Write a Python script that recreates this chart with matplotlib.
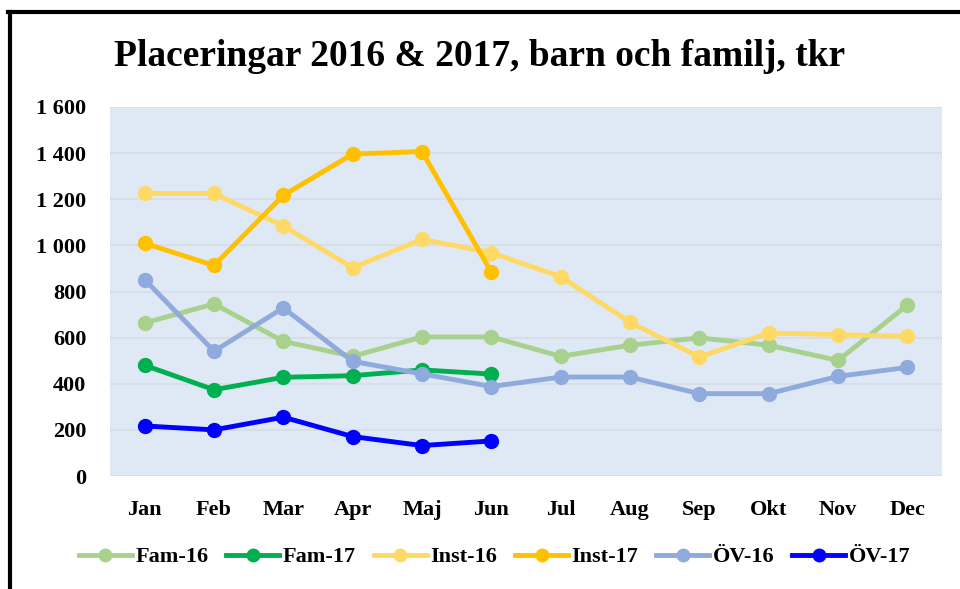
import matplotlib.pyplot as plt
from matplotlib.lines import Line2D
from matplotlib.ticker import FuncFormatter

# Månader och placeringskostnader (tkr)
manader = ['Jan', 'Feb', 'Mar', 'Apr', 'Maj', 'Jun', 'Jul', 'Aug', 'Sep', 'Okt', 'Nov', 'Dec']

fam_16 = [664, 746, 584, 519, 603, 603, 519, 567, 599, 567, 501, 741]
fam_17 = [480, 374, 428, 435, 460, 442]
inst_16 = [1225, 1225, 1084, 903, 1026, 968, 864, 667, 516, 620, 613, 606]
inst_17 = [1009, 913, 1217, 1396, 1407, 884]
ov_16 = [852, 541, 729, 497, 443, 388, 429, 429, 357, 357, 432, 471]
ov_17 = [217, 200, 255, 171, 132, 152]

serier = [
    ('Fam-16', fam_16, '#A9D18E'),
    ('Fam-17', fam_17, '#00B050'),
    ('Inst-16', inst_16, '#FFD966'),
    ('Inst-17', inst_17, '#FFC000'),
    ('ÖV-16', ov_16, '#8FAADC'),
    ('ÖV-17', ov_17, '#0000FF'),
]

plt.rcParams['font.family'] = ['Liberation Serif', 'DejaVu Serif']
plt.rcParams['font.weight'] = 'bold'

fig = plt.figure(figsize=(9.6, 5.89), dpi=100)
ax = fig.add_axes([110 / 960, 1 - 476 / 589, 832 / 960, 369 / 589])
ax.set_facecolor('#DEE9F5')

x = list(range(len(manader)))
for namn, varden, farg in serier:
    ax.plot(x[:len(varden)], varden, color=farg, linewidth=3.5, marker='o',
            markersize=10, label=namn, zorder=3)

ax.set_xlim(-0.5, 11.5)
ax.set_ylim(0, 1600)
ax.set_yticks(range(0, 1601, 200))
ax.yaxis.set_major_formatter(FuncFormatter(lambda v, p: f'{int(v):,}'.replace(',', ' ')))
ax.set_xticks(x)
ax.set_xticklabels(manader)
ax.tick_params(axis='both', length=0, labelsize=16)
ax.tick_params(axis='x', pad=17)
ax.tick_params(axis='y', pad=17)

ax.grid(axis='y', color='#D6DCE3', linewidth=1.2, zorder=1)
for s in ax.spines.values():
    s.set_visible(False)

fig.text(0.5, 1 - 57 / 589, 'Placeringar 2016 & 2017, barn och familj, tkr',
         ha='center', va='center', fontsize=27, fontweight='bold')

handles = [Line2D([], [], color=f, linewidth=3.5, marker='o', markersize=9) for _, _, f in serier]
fig.legend(handles, [n for n, _, _ in serier], loc='center', ncol=6,
           bbox_to_anchor=(0.515, 1 - 557 / 589), frameon=False, fontsize=16,
           handlelength=2.4, handletextpad=0.15, columnspacing=0.8)

# ram upptill och till vänster
fig.add_artist(Line2D([8 / 960, 1], [1 - 12 / 589, 1 - 12 / 589], color='black', linewidth=3,
                      transform=fig.transFigure))
fig.add_artist(Line2D([9.5 / 960, 9.5 / 960], [0, 1 - 12 / 589], color='black', linewidth=3,
                      transform=fig.transFigure))

fig.savefig('out.png', dpi=100, facecolor='white')
